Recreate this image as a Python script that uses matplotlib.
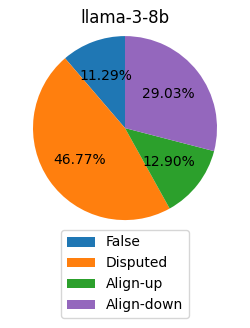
import matplotlib
matplotlib.use("Agg")
import matplotlib.pyplot as plt

title = "llama-3-8b"
labels = ["False", "Disputed", "Align-up", "Align-down"]
counts = [7, 29, 8, 18]
colors = ["#1f77b4", "#ff7f0e", "#2ca02c", "#9467bd"]

fig = plt.figure(figsize=(2.5, 3.28), dpi=100)
ax = fig.add_axes([0.132, 0.329, 0.736, 0.561])
wedges, texts, autotexts = ax.pie(counts, colors=colors, autopct="%1.2f%%",
                                  startangle=90, textprops={"fontsize": 10})
ax.set_xlim(-1, 1)
ax.set_ylim(-1, 1)
ax.set_aspect("equal")
fig.text(0.5, 1 - 18 / 328, title, ha="center", va="center", fontsize=12)
fig.legend(wedges, labels, loc="upper center", bbox_to_anchor=(0.5, 1 - 223 / 328),
           fontsize=10)
fig.savefig("out.png", dpi=100)
